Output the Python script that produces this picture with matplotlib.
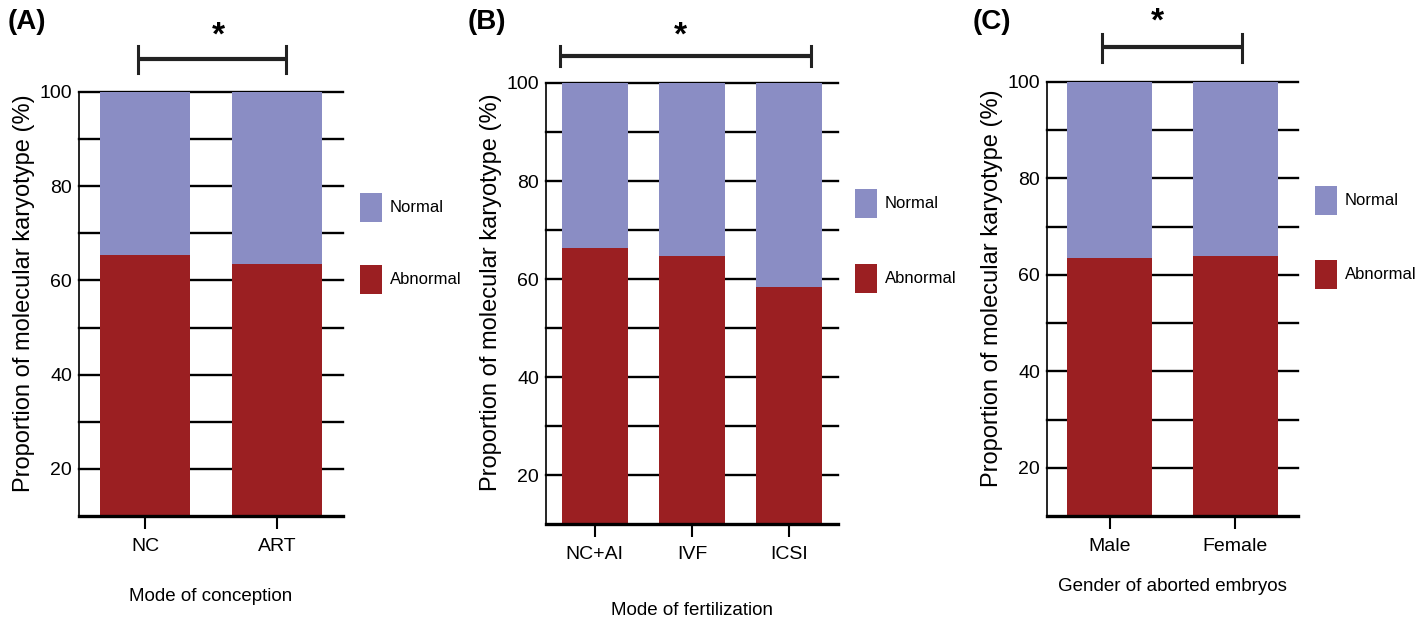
import numpy as np
import matplotlib
matplotlib.use('Agg')
import matplotlib.pyplot as plt
from matplotlib.patches import Rectangle
from matplotlib.transforms import blended_transform_factory

# proportion of abnormal karyotype (%), normal = 100 - abnormal
conception = ['NC', 'ART']
conception_abnormal = [65.3, 63.4]

fertilization = ['NC+AI', 'IVF', 'ICSI']
fertilization_abnormal = [66.4, 64.6, 58.3]

gender = ['Male', 'Female']
gender_abnormal = [63.4, 63.9]

series_labels = ['Normal', 'Abnormal']

NORMAL = '#8a8dc4'
ABNORMAL = '#9b1f22'
NARROW = ['Liberation Sans Narrow', 'Liberation Sans', 'DejaVu Sans']
W, H = 1416, 629


def add_axes_px(fig, left, right, top, bottom):
    return fig.add_axes([left / W, 1 - bottom / H, (right - left) / W, (bottom - top) / H])


def draw_panel(fig, ax, cats, abnormal, xlabel, letter, box, bracket, star):
    left, right, top, bottom = box
    x = np.arange(len(cats))
    normal = [100 - v for v in abnormal]

    for lvl in range(20, 101, 10):
        ax.axhline(lvl, color='black', lw=1.7, zorder=1, clip_on=False)
    ax.bar(x, abnormal, width=0.68, color=ABNORMAL, zorder=3)
    ax.bar(x, normal, bottom=abnormal, width=0.68, color=NORMAL, zorder=3)

    ax.set_xlim(-0.5, len(cats) - 0.5)
    ax.set_ylim(10, 100)
    ax.set_yticks(range(20, 101, 20))
    ax.set_xticks(x)
    ax.set_xticklabels(cats, family=NARROW, fontsize=14)
    for lab in ax.get_yticklabels():
        lab.set_family(NARROW)
        lab.set_fontsize(14)
    ax.tick_params(axis='y', length=0, pad=5)
    ax.tick_params(axis='x', length=9, width=1.5, pad=7, direction='out')

    for s in ['top', 'right']:
        ax.spines[s].set_visible(False)
    ax.spines['left'].set_linewidth(1.2)
    ax.spines['bottom'].set_linewidth(2.4)
    ax.spines['bottom'].set_zorder(4)

    axh = bottom - top
    axw = right - left
    ax.set_ylabel('Proportion of molecular karyotype (%)', family=NARROW, fontsize=17)
    ax.yaxis.set_label_coords(-44 / axw, 0.525)
    ax.set_xlabel(xlabel, family=NARROW, fontsize=13.5)
    ax.xaxis.set_label_coords(0.5, bracket['xlab'])

    # significance bracket
    bx0, bx1, by, tick_lo, tick_hi = bracket['x0'], bracket['x1'], bracket['y'], bracket['lo'], bracket['hi']
    trans = ax.get_xaxis_transform()
    ax.plot([bx0, bx1], [by, by], color='#222222', lw=3, transform=trans, clip_on=False, solid_capstyle='butt')
    for bx in (bx0, bx1):
        ax.plot([bx, bx], [tick_lo, tick_hi], color='#222222', lw=2.2, transform=trans, clip_on=False)
    ax.text(star[0], star[1], '*', transform=trans, ha='center', va='center',
            fontsize=24, fontweight='bold', family='Liberation Sans')

    # legend
    bt = blended_transform_factory(fig.transFigure, ax.transAxes)
    px0 = (right + 17) / W
    ph = 29 / axh
    for yc, col, lab in zip([0.727, 0.557], [NORMAL, ABNORMAL], series_labels):
        ax.add_patch(Rectangle((px0, yc - ph / 2), 22 / W, ph, facecolor=col, edgecolor='none',
                               transform=bt, clip_on=False))
        ax.text(px0 + 30 / W, yc, lab, transform=bt, ha='left', va='center',
                family=NARROW, fontsize=12)

    fig.text(letter[0] / W, 1 - letter[1] / H, letter[2], fontsize=20, fontweight='bold',
             family='Liberation Sans', ha='left', va='center')


fig = plt.figure(figsize=(W / 100, H / 100), dpi=100)

boxA = (79, 343, 92, 516)
axA = add_axes_px(fig, *boxA)
draw_panel(fig, axA, conception, conception_abnormal, 'Mode of conception', (8, 22, '(A)'), boxA,
           dict(x0=-0.05, x1=1.07, y=1.078, lo=1.044, hi=1.108, xlab=-0.17), (0.56, 1.131))

boxB = (546, 838, 83, 524)
axB = add_axes_px(fig, *boxB)
draw_panel(fig, axB, fertilization, fertilization_abnormal, 'Mode of fertilization', (468, 22, '(B)'), boxB,
           dict(x0=-0.36, x1=2.22, y=1.061, lo=1.039, hi=1.084, xlab=-0.177), (0.88, 1.107))

boxC = (1047, 1298, 82, 516)
axC = add_axes_px(fig, *boxC)
draw_panel(fig, axC, gender, gender_abnormal, 'Gender of aborted embryos', (973, 22, '(C)'), boxC,
           dict(x0=-0.064, x1=1.056, y=1.081, lo=1.046, hi=1.111, xlab=-0.143), (0.376, 1.139))

fig.savefig('out.png', dpi=100)
